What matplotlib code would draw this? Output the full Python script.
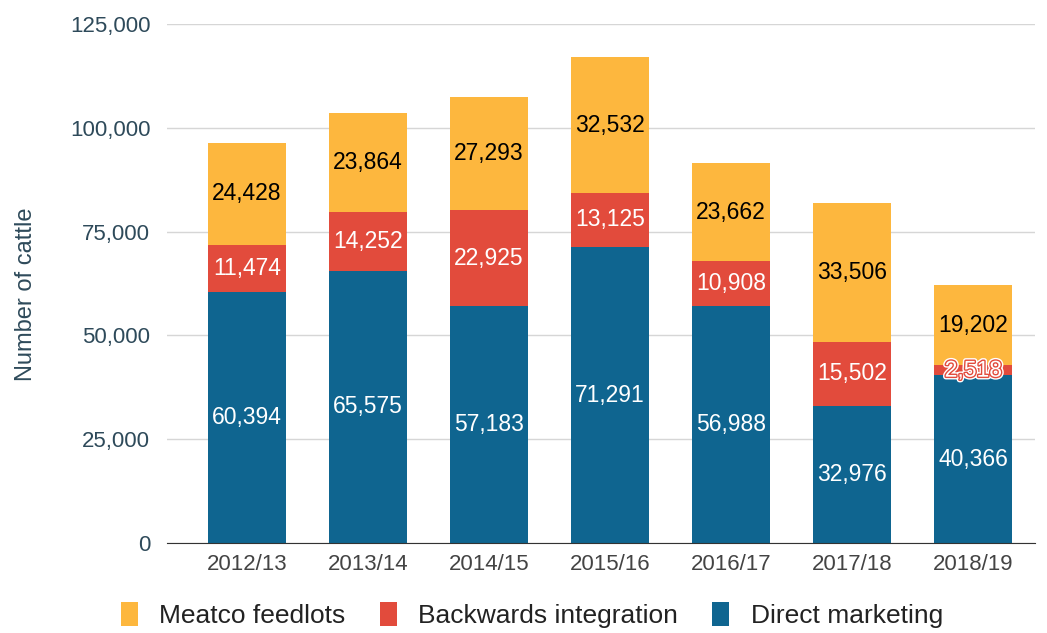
import matplotlib.pyplot as plt
import matplotlib.patheffects as pe
import numpy as np
from matplotlib.ticker import FuncFormatter

plt.rcParams['font.family'] = ['Liberation Sans', 'DejaVu Sans']

seasons = ['2012/13', '2013/14', '2014/15', '2015/16', '2016/17', '2017/18', '2018/19']
direct = [60394, 65575, 57183, 71291, 56988, 32976, 40366]
backwards = [11474, 14252, 22925, 13125, 10908, 15502, 2518]
feedlots = [24428, 23864, 27293, 32532, 23662, 33506, 19202]

blue = '#0f6590'
red = '#e24b3c'
yellow = '#fdb73e'
axis_col = '#2e4a5a'

fig = plt.figure(figsize=(10.47, 6.33), dpi=100)
ax = fig.add_axes([0.1595, 0.1422, 0.829, 0.8198])

x = np.arange(len(seasons))
w = 0.645
direct = np.array(direct)
backwards = np.array(backwards)
feedlots = np.array(feedlots)

ax.bar(x, direct, w, color=blue, label='Direct marketing', zorder=3)
ax.bar(x, backwards, w, bottom=direct, color=red, label='Backwards integration', zorder=3)
ax.bar(x, feedlots, w, bottom=direct + backwards, color=yellow, label='Meatco feedlots', zorder=3)

for i in range(len(seasons)):
    ax.text(x[i], direct[i] / 2, f'{direct[i]:,}', ha='center', va='center',
            color='white', fontsize=16.5, zorder=4)
    t = ax.text(x[i], direct[i] + backwards[i] / 2, f'{backwards[i]:,}', ha='center',
                va='center', color='white', fontsize=16.5, zorder=4)
    if backwards[i] < 5000:
        # small segment: label gets a halo like the original
        t.set_path_effects([pe.Stroke(linewidth=4, foreground='white'),
                            pe.Stroke(linewidth=2, foreground=red), pe.Normal()])
    ax.text(x[i], direct[i] + backwards[i] + feedlots[i] / 2, f'{feedlots[i]:,}',
            ha='center', va='center', color='black', fontsize=16.5, zorder=4)

ax.set_xlim(-0.66, 6.51)
ax.set_ylim(0, 125000)
ax.set_yticks(np.arange(0, 125001, 25000))
ax.yaxis.set_major_formatter(FuncFormatter(lambda v, p: f'{int(v):,}'))
ax.set_xticks(x)
ax.set_xticklabels(seasons)
ax.grid(axis='y', color='#d6d6d6', linewidth=1, zorder=0)
for s in ['top', 'right', 'left']:
    ax.spines[s].set_visible(False)
ax.spines['bottom'].set_color('#333333')
ax.spines['bottom'].set_zorder(5)
ax.tick_params(axis='both', length=0, labelsize=16)
ax.tick_params(axis='y', pad=12, labelcolor=axis_col)
ax.tick_params(axis='x', pad=8, labelcolor='#444444')
ax.set_ylabel('Number of cattle', fontsize=17, color=axis_col)
ax.yaxis.set_label_coords(-0.15, 0.48)

handles, labels = ax.get_legend_handles_labels()
fig.legend(handles[::-1], labels[::-1], loc='lower center', bbox_to_anchor=(0.508, -0.03),
           ncol=3, frameon=False, fontsize=19, handlelength=0.65, handleheight=1.0,
           handletextpad=0.8, columnspacing=1.3, labelcolor='#222222')

fig.savefig('out.png', dpi=100)
